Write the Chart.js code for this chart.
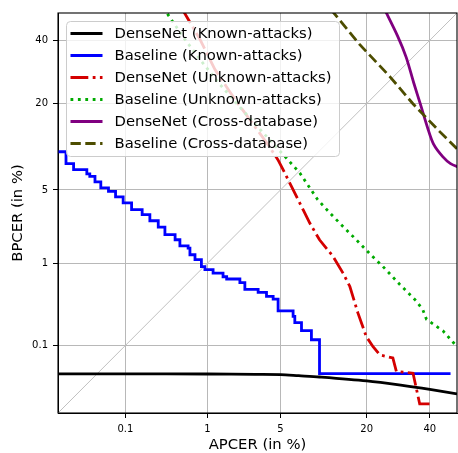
<!DOCTYPE html>
<html>
<head>
<meta charset="utf-8">
<title>DET curves</title>
<script src="https://cdn.jsdelivr.net/npm/chart.js@4.4.1/dist/chart.umd.min.js"></script>
<style>
  html, body { margin: 0; padding: 0; background: #fff; overflow: hidden; }
  canvas { display: block; }
</style>
</head>
<body>
<canvas id="chart" width="458" height="453"></canvas>
<script>
// axis range and ticks (in %)
const axisMin = 0.01;
const axisMax = 50;
const xTicks = [0.1, 1, 5, 20, 40];
const yTicks = [0.1, 1, 5, 20, 40];

// DenseNet (Known-attacks)
const denseKnownApcer = [0.01, 0.1, 1, 3, 5, 7, 10, 20, 30, 40, 50];
const denseKnownBpcer = [0.0396, 0.0396, 0.0395, 0.039, 0.0387, 0.0373, 0.0357, 0.0312, 0.027, 0.0233, 0.0199];

// Baseline (Known-attacks) - staircase
const baseKnownApcer = [0.009, 0.0134, 0.0176, 0.028, 0.031, 0.037, 0.045, 0.058, 0.073, 0.093, 0.121, 0.167, 0.21, 0.268, 0.324, 0.43, 0.49, 0.61, 0.64, 0.73, 0.86, 0.94, 1.15, 1.46, 1.59, 2.15, 2.40, 3.19, 3.79, 4.33, 4.77, 6.33, 6.53, 7.36, 8.74, 10.0, 10.0, 47.6];
const baseKnownBpcer = [9.85, 8.07, 7.27, 6.73, 6.44, 5.81, 5.19, 4.87, 4.36, 3.87, 3.37, 3.04, 2.67, 2.33, 1.97, 1.75, 1.52, 1.44, 1.23, 1.09, 0.92, 0.85, 0.78, 0.71, 0.67, 0.61, 0.51, 0.47, 0.42, 0.39, 0.28, 0.24, 0.20, 0.157, 0.119, 0.078, 0.040, 0.040];

// DenseNet (Unknown-attacks)
const denseUnknownApcer = [0.51, 0.83, 1.20, 1.92, 2.97, 3.89, 4.75, 5.25, 6.14, 7.57, 8.50, 10.0, 12.4, 14.4, 15.9, 17.8, 19.9, 21.7, 23.6, 27.5, 28.6, 34.1, 35.2, 36.4, 39.9];
const denseUnknownBpcer = [52, 40.3, 30.0, 21.1, 14.6, 11.1, 8.64, 7.27, 5.35, 3.37, 2.54, 1.75, 1.18, 0.78, 0.55, 0.263, 0.131, 0.096, 0.074, 0.067, 0.043, 0.0405, 0.0245, 0.0139, 0.0139];

// Baseline (Unknown-attacks)
const baseUnknownApcer = [0.31, 0.373, 0.56, 0.83, 1.36, 2.40, 3.81, 5.42, 7.14, 9.71, 11.8, 13.7, 17.4, 20.8, 24.5, 29.7, 35.2, 37.5, 38.8, 44.8, 50.0, 51.7];
const baseUnknownBpcer = [52, 48.3, 40.3, 33.3, 25.3, 17.7, 12.5, 9.14, 6.85, 4.13, 3.15, 2.54, 1.75, 1.26, 0.92, 0.58, 0.37, 0.29, 0.22, 0.156, 0.096, 0.081];

// DenseNet (Cross-database)
const denseCrossApcer = [24.7, 29.0, 31.8, 34.3, 36.7, 39.2, 41.4, 44.7, 47.6, 51.0];
const denseCrossBpcer = [52.1, 41.5, 34.0, 25.9, 19.7, 14.3, 11.1, 9.09, 8.07, 7.53];

// Baseline (Cross-database)
const baseCrossApcer = [12.0, 18.2, 26.5, 34.0, 43.6, 51.0];
const baseCrossBpcer = [51.3, 38.5, 27.8, 20.0, 13.5, 9.9];

// inverse normal CDF (Acklam)
function probit(p) {
  const a = [-3.969683028665376e+01, 2.209460984245205e+02, -2.759285104469687e+02, 1.383577518672690e+02, -3.066479806614716e+01, 2.506628277459239e+00];
  const b = [-5.447609879822406e+01, 1.615858368580409e+02, -1.556989798598866e+02, 6.680131188771972e+01, -1.328068155288572e+01];
  const c = [-7.784894002430293e-03, -3.223964580411365e-01, -2.400758277161838e+00, -2.549732539343734e+00, 4.374664141464968e+00, 2.938163982698783e+00];
  const d = [7.784695709041462e-03, 3.224671290700398e-01, 2.445134137142996e+00, 3.754408661907416e+00];
  const pl = 0.02425;
  let q, r;
  if (p < pl) {
    q = Math.sqrt(-2 * Math.log(p));
    return (((((c[0]*q+c[1])*q+c[2])*q+c[3])*q+c[4])*q+c[5]) / ((((d[0]*q+d[1])*q+d[2])*q+d[3])*q+1);
  }
  if (p <= 1 - pl) {
    q = p - 0.5; r = q * q;
    return (((((a[0]*r+a[1])*r+a[2])*r+a[3])*r+a[4])*r+a[5])*q / (((((b[0]*r+b[1])*r+b[2])*r+b[3])*r+b[4])*r+1);
  }
  q = Math.sqrt(-2 * Math.log(1 - p));
  return -(((((c[0]*q+c[1])*q+c[2])*q+c[3])*q+c[4])*q+c[5]) / ((((d[0]*q+d[1])*q+d[2])*q+d[3])*q+1);
}

function normCdf(z) {
  const t = 1 / (1 + 0.2316419 * Math.abs(z));
  const y = t * (0.319381530 + t * (-0.356563782 + t * (1.781477937 + t * (-1.821255978 + t * 1.330274429))));
  const p = 1 - Math.exp(-z * z / 2) / Math.sqrt(2 * Math.PI) * y;
  return z >= 0 ? p : 1 - p;
}

// probit (normal deviate) scale for DET plots, values in %
class ProbitScale extends Chart.Scale {
  static id = 'probit';
  static defaults = {};

  determineDataLimits() {
    this.min = this.options.min;
    this.max = this.options.max;
  }
  buildTicks() {
    const vals = this.axis === 'x' ? xTicks : yTicks;
    return vals.map(v => ({ value: v }));
  }
  getLabelForValue(v) {
    return String(v);
  }
  configure() {
    super.configure();
    this._zMin = probit(this.min / 100);
    this._zMax = probit(this.max / 100);
  }
  getPixelForValue(v) {
    const z = probit(v / 100);
    return this.getPixelForDecimal((z - this._zMin) / (this._zMax - this._zMin));
  }
  getValueForPixel(px) {
    const dec = this.getDecimalForPixel(px);
    return 100 * normCdf(this._zMin + dec * (this._zMax - this._zMin));
  }
}
Chart.register(ProbitScale);

function pts(xs, ys) {
  return xs.map((x, i) => ({ x: x, y: ys[i] }));
}

// box around plot area, drawn above lines
const framePlugin = {
  id: "frame",
  afterDatasetsDraw(chart) {
    const a = chart.chartArea;
    const ctx = chart.ctx;
    ctx.save();
    ctx.strokeStyle = "#000";
    ctx.lineWidth = 1.1;
    ctx.strokeRect(a.left, a.top, a.right - a.left, a.bottom - a.top);
    ctx.restore();
  }
};

// matplotlib-like legend in upper left of axes
const legendPlugin = {
  id: "detLegend",
  afterDraw(chart) {
    const a = chart.chartArea;
    const ctx = chart.ctx;
    const items = chart.data.datasets.filter(d => d.label);
    const x0 = a.left + 8.5, y0 = a.top + 8.5;
    ctx.save();
    ctx.beginPath();
    ctx.roundRect(x0, y0, 273, 135, 4);
    ctx.fillStyle = "rgba(255,255,255,0.8)";
    ctx.fill();
    ctx.strokeStyle = "#cccccc";
    ctx.lineWidth = 1;
    ctx.stroke();
    ctx.font = '14.8px "DejaVu Sans"';
    ctx.textBaseline = "middle";
    items.forEach((d, i) => {
      const y = y0 + 12 + i * 22;
      ctx.beginPath();
      ctx.setLineDash(d.borderDash || []);
      ctx.strokeStyle = d.borderColor;
      ctx.lineWidth = d.borderWidth;
      ctx.moveTo(x0 + 4, y);
      ctx.lineTo(x0 + 36, y);
      ctx.stroke();
      ctx.setLineDash([]);
      ctx.fillStyle = "#000";
      ctx.fillText(d.label, x0 + 48, y + 0.5);
    });
    ctx.restore();
  }
};

Chart.defaults.font.family = '"DejaVu Sans", sans-serif';
Chart.defaults.color = "#000";

const lw = 2.8;

new Chart(document.getElementById("chart"), {
  type: "line",
  data: {
    datasets: [
      {
        label: "DenseNet (Known-attacks)",
        data: pts(denseKnownApcer, denseKnownBpcer),
        borderColor: "#000000",
        borderWidth: lw,
        tension: 0.3,
        order: 6,
      },
      {
        label: "Baseline (Known-attacks)",
        data: pts(baseKnownApcer, baseKnownBpcer),
        borderColor: "#0000ff",
        borderWidth: lw,
        stepped: "before",
        order: 5,
      },
      {
        label: "DenseNet (Unknown-attacks)",
        data: pts(denseUnknownApcer, denseUnknownBpcer),
        borderColor: "#d40000",
        borderWidth: lw,
        borderDash: [17.8, 4.4, 2.8, 4.4],
        order: 4,
      },
      {
        label: "Baseline (Unknown-attacks)",
        data: pts(baseUnknownApcer, baseUnknownBpcer),
        borderColor: "#00aa00",
        borderWidth: lw,
        borderDash: [2.8, 4.6],
        order: 3,
      },
      {
        label: "DenseNet (Cross-database)",
        data: pts(denseCrossApcer, denseCrossBpcer),
        borderColor: "#800080",
        borderWidth: lw,
        tension: 0.3,
        order: 2,
      },
      {
        label: "Baseline (Cross-database)",
        data: pts(baseCrossApcer, baseCrossBpcer),
        borderColor: "#4d4d00",
        borderWidth: lw,
        borderDash: [10.3, 4.5],
        order: 1,
      },
      {
        // chance diagonal
        data: pts([axisMin, axisMax], [axisMin, axisMax]),
        borderColor: "#c0c0c0",
        borderWidth: 1,
        order: 10,
      },
    ],
  },
  options: {
    responsive: false,
    devicePixelRatio: 1,
    animation: false,
    layout: { padding: { top: 13, right: 1, left: 0, bottom: 0 } },
    elements: { point: { radius: 0 }, line: { borderCapStyle: "butt" } },
    plugins: { legend: { display: false }, tooltip: { enabled: false } },
    scales: {
      x: {
        type: "probit",
        position: "bottom",
        min: axisMin,
        max: axisMax,
        afterFit: (s) => { s.height = 40; },
        grid: { color: "#b8b8b8", lineWidth: 1, tickLength: 5, tickColor: "#000" },
        border: { color: "#000", width: 1 },
        ticks: { autoSkip: false, maxRotation: 0, padding: 5, font: { size: 10 }, callback: (v) => String(v) },
        title: { display: true, text: "APCER (in %)", font: { size: 14.8, lineHeight: 1.1 }, padding: { top: 0, bottom: 0 } },
      },
      y: {
        type: "probit",
        position: "left",
        min: axisMin,
        max: axisMax,
        afterFit: (s) => { s.width = 58; },
        grid: { color: "#b8b8b8", lineWidth: 1, tickLength: 5, tickColor: "#000" },
        border: { color: "#000", width: 1 },
        ticks: { autoSkip: false, padding: 5, font: { size: 10 }, callback: (v) => String(v) },
        title: { display: true, text: "BPCER (in %)", font: { size: 14.8, lineHeight: 1.1 }, padding: { top: 10, bottom: 0 } },
      },
    },
  },
  plugins: [framePlugin, legendPlugin],
});
</script>
</body>
</html>
